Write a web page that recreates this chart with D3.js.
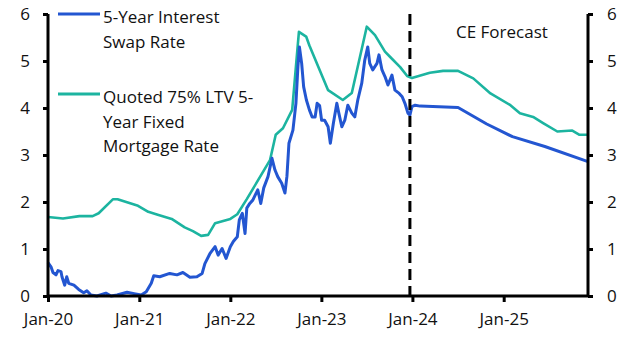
<!DOCTYPE html>
<html>
<head>
<meta charset="utf-8">
<script src="https://cdn.jsdelivr.net/npm/d3@7"></script>
<style>
	body { margin: 0; background: white; }
	svg { display: block; }
</style>
</head>
<body>
<svg id="chart" width="630" height="348"></svg>
<script>

//****************************************************************************************************************************//
// Data

var swapDates = ["2020-01-01","2020-01-13","2020-01-21","2020-02-02","2020-02-10","2020-02-22","2020-02-26","2020-03-08","2020-03-16","2020-03-24",
	"2020-04-14","2020-05-03","2020-05-23","2020-06-05","2020-06-21","2020-07-15","2020-08-20","2020-09-10","2020-10-04","2020-11-13",
	"2020-12-11","2021-01-09","2021-01-29","2021-02-18","2021-02-28","2021-03-24","2021-05-03","2021-06-01","2021-06-25","2021-07-23",
	"2021-08-20","2021-09-10","2021-09-21","2021-10-11","2021-11-01","2021-11-13","2021-11-29","2021-12-15","2022-01-01","2022-01-13",
	"2022-01-29","2022-02-06","2022-02-18","2022-03-01","2022-03-08","2022-03-20","2022-04-01","2022-04-21","2022-05-03","2022-05-15",
	"2022-06-01","2022-06-17","2022-06-29","2022-07-10","2022-07-26","2022-08-08","2022-08-16","2022-08-24","2022-09-09","2022-09-21",
	"2022-09-29","2022-10-05","2022-10-14","2022-10-22","2022-11-02","2022-11-14","2022-11-25","2022-12-07","2022-12-15","2022-12-25",
	"2023-01-02","2023-01-14","2023-01-28","2023-02-06","2023-02-18","2023-03-04","2023-03-12","2023-03-24","2023-04-05","2023-04-17",
	"2023-05-03","2023-05-15","2023-05-27","2023-06-12","2023-06-24","2023-07-06","2023-07-14","2023-07-26","2023-08-12","2023-08-20",
	"2023-09-01","2023-09-13","2023-09-25","2023-10-11","2023-10-23","2023-11-09","2023-11-21","2023-12-02","2023-12-14","2023-12-22",
	"2023-12-30","2024-01-12","2024-02-01","2024-07-02","2024-10-25","2025-02-05","2025-06-15","2025-12-05"];

var swapRate = [0.71,0.62,0.50,0.45,0.54,0.52,0.41,0.23,0.41,0.27,
	0.23,0.14,0.07,0.11,0.02,0.00,0.06,0.00,0.02,0.08,
	0.05,0.02,0.09,0.27,0.43,0.41,0.48,0.45,0.50,0.40,
	0.41,0.48,0.69,0.90,1.05,0.87,1.01,0.80,1.05,1.16,
	1.26,1.62,1.76,1.33,1.87,1.97,2.04,2.26,1.97,2.30,
	2.54,2.93,2.68,2.54,2.40,2.19,2.55,3.25,3.53,4.10,
	4.88,5.30,4.95,4.45,4.17,3.96,3.81,3.81,4.10,4.05,
	3.74,3.74,3.60,3.25,3.67,4.10,3.89,3.60,3.74,4.06,
	3.89,3.81,4.17,4.53,5.02,5.30,4.95,4.81,4.95,5.13,
	4.81,4.67,4.49,4.70,4.38,4.31,4.24,4.10,3.89,3.85,
	4.03,4.06,4.04,4.01,3.66,3.39,3.18,2.86];

var mortgageDates = ["2020-01-01","2020-03-01","2020-05-06","2020-06-28","2020-07-22","2020-09-18","2020-10-06","2020-12-27","2021-02-06","2021-03-16",
	"2021-05-11","2021-07-02","2021-08-04","2021-09-06","2021-10-04","2021-11-01","2022-01-01","2022-01-29","2022-03-08","2022-06-09",
	"2022-07-02","2022-07-31","2022-09-06","2022-10-03","2022-11-01","2022-11-14","2023-01-28","2023-03-28","2023-05-03","2023-07-02",
	"2023-08-04","2023-09-13","2023-10-03","2023-11-13","2023-12-11","2023-12-30","2024-03-11","2024-05-03","2024-07-02","2024-09-01",
	"2024-11-09","2025-01-28","2025-03-07","2025-04-29","2025-06-08","2025-08-04","2025-10-03","2025-11-01","2025-12-05"];

var mortgageRate = [1.68,1.65,1.70,1.70,1.76,2.06,2.06,1.92,1.79,1.73,
	1.64,1.46,1.38,1.28,1.30,1.55,1.64,1.74,2.06,2.89,
	3.43,3.57,3.96,5.62,5.52,5.33,4.38,4.17,4.32,5.73,
	5.55,5.20,5.09,4.87,4.68,4.64,4.75,4.79,4.79,4.63,
	4.31,4.06,3.89,3.81,3.68,3.50,3.52,3.43,3.43];

var tickYears = ["2020-01-01","2021-01-01","2022-01-01","2023-01-01","2024-01-01","2025-01-01"];
var yTicks = [0, 1, 2, 3, 4, 5, 6];
var forecastStart = "2023-12-22";
var seriesNames = [["5-Year Interest", "Swap Rate"], ["Quoted 75% LTV 5-", "Year Fixed", "Mortgage Rate"]];
var seriesColours = ["#2356d1", "#1cb4a0"];

//****************************************************************************************************************************//
// Chart Setup

var width = 630;
var height = 348;
var margin = { left : 48, right : 42, top : 14, bottom : 52 };
var fontFamily = "'Open Sans', sans-serif";
var fontSize = "17px";
var parseDate = d3.timeParse("%Y-%m-%d");
var formatTick = d3.timeFormat("%b-%y");

var canvas = d3.select("#chart");

var x = d3.scaleTime()
			.domain([parseDate("2020-01-01"), parseDate("2025-12-05")])
			.range([margin.left, width - margin.right]);

var y = d3.scaleLinear()
			.domain([0, 6])
			.range([height - margin.bottom, margin.top]);

var swapData = swapDates.map(function(d, i){ return { date : parseDate(d), value : swapRate[i] }; });
var mortgageData = mortgageDates.map(function(d, i){ return { date : parseDate(d), value : mortgageRate[i] }; });

var line = d3.line()
			.x(function(d){ return x(d.date); })
			.y(function(d){ return y(d.value); });

//****************************************************************************************************************************//
// Lines

canvas.append("path")
			.datum(mortgageData)
			.attr("fill", "none")
			.attr("stroke", seriesColours[1])
			.attr("stroke-width", 2.6)
			.attr("stroke-linejoin", "round")
			.attr("d", line);

canvas.append("path")
			.datum(swapData)
			.attr("fill", "none")
			.attr("stroke", seriesColours[0])
			.attr("stroke-width", 3)
			.attr("stroke-linejoin", "round")
			.attr("d", line);

//****************************************************************************************************************************//
// Forecast Marker

canvas.append("line")
			.attr("x1", x(parseDate(forecastStart)))
			.attr("x2", x(parseDate(forecastStart)))
			.attr("y1", y(6))
			.attr("y2", y(0))
			.attr("stroke", "black")
			.attr("stroke-width", 3)
			.attr("stroke-dasharray", "11,6");

canvas.append("text")
			.attr("x", 456)
			.attr("y", 38)
			.style("font-family", fontFamily)
			.style("font-size", fontSize)
			.attr("fill", "#111")
			.text("CE Forecast");

//****************************************************************************************************************************//
// Axes

var xAxis = canvas.append("g")
			.attr("transform", "translate(0," + y(0) + ")")
			.call(d3.axisBottom(x)
				.tickValues(tickYears.map(parseDate))
				.tickFormat(formatTick)
				.tickSize(6)
				.tickPadding(11));

var yAxisLeft = canvas.append("g")
			.attr("transform", "translate(" + margin.left + ",0)")
			.call(d3.axisLeft(y).tickValues(yTicks).tickFormat(d3.format("d")).tickSize(5).tickPadding(13));

var yAxisRight = canvas.append("g")
			.attr("transform", "translate(" + (width - margin.right) + ",0)")
			.call(d3.axisRight(y).tickValues(yTicks).tickFormat(d3.format("d")).tickSize(5).tickPadding(14));

[xAxis, yAxisLeft, yAxisRight].forEach(function(g){
	g.select(".domain").attr("stroke", "black").attr("stroke-width", 3);
	g.selectAll(".tick line").attr("stroke", "black").attr("stroke-width", 3);
	g.selectAll(".tick text")
		.attr("fill", "#111")
		.style("font-family", fontFamily)
		.style("font-size", fontSize);
});

yAxisLeft.select(".domain").attr("d", "M0," + y(6) + "V" + y(0));
yAxisRight.select(".domain").attr("d", "M0," + y(6) + "V" + y(0));
xAxis.select(".domain").attr("d", "M" + margin.left + ",0H" + (width - margin.right));

//****************************************************************************************************************************//
// Legend

var legend_Pane = canvas.append("g");
var legendRows = [14, 94];

seriesNames.forEach(function(lines, i){
	legend_Pane.append("line")
				.attr("x1", 58)
				.attr("x2", 100)
				.attr("y1", legendRows[i])
				.attr("y2", legendRows[i])
				.attr("stroke", seriesColours[i])
				.attr("stroke-width", 3);

	var label = legend_Pane.append("text")
				.attr("x", 103)
				.attr("y", legendRows[i] + 9)
				.attr("fill", "#111")
				.style("font-family", fontFamily)
				.style("font-size", fontSize);

	lines.forEach(function(t, j){
		label.append("tspan")
				.attr("x", 103)
				.attr("dy", j === 0 ? 0 : 24.5)
				.text(t);
	});
});

</script>
</body>
</html>
